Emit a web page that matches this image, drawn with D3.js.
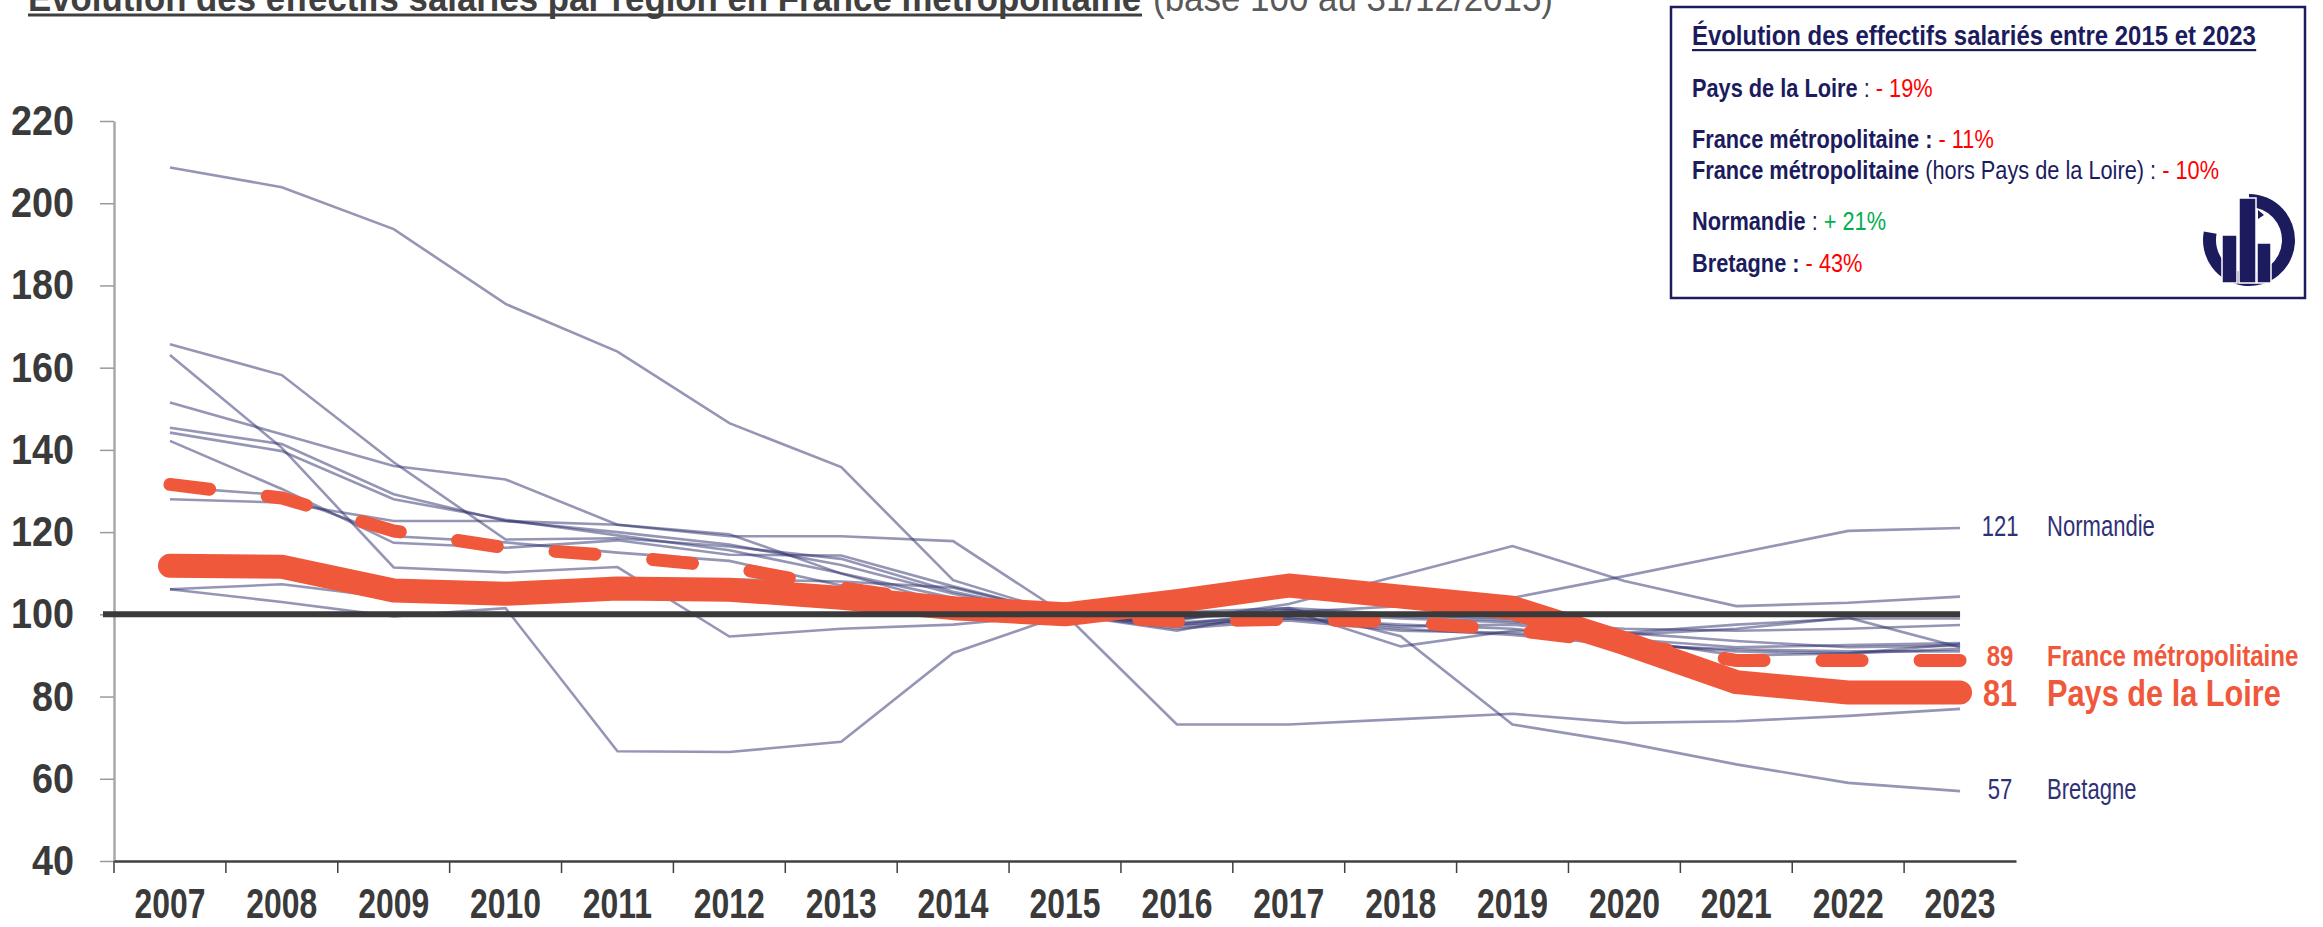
<!DOCTYPE html>
<html><head><meta charset="utf-8">
<script src="https://cdn.jsdelivr.net/npm/d3@7"></script>
<style>body{margin:0;background:#fff;overflow:hidden}</style>
</head><body>
<svg id="c" width="2323" height="927"></svg>
<script>
// ---------- DATA ----------
const years = [2007,2008,2009,2010,2011,2012,2013,2014,2015,2016,2017,2018,2019,2020,2021,2022,2023];
const yTicks = [40,60,80,100,120,140,160,180,200,220];

const paysDeLaLoire = [111.8,111.6,105.8,105.0,106.3,106.0,104.0,101.5,100,103.2,107.0,104.3,101.6,93.0,83.5,81.0,81.0];
const franceMetro   = [131.6,128.3,120.3,116.2,114.2,111.5,106.5,102.5,100,98.3,98.8,98.2,96.2,93.0,88.8,88.8,88.8];

const normandie = [131.0,129.0,119.0,117.5,115.0,113.0,107.0,102.0,100,97.5,100.5,102.0,104.0,109.3,114.8,120.3,121.0];
const bretagne  = [208.7,203.9,193.7,175.5,163.9,146.5,135.8,108.3,100,99.0,101.5,94.7,73.2,68.8,63.5,59.0,57.0];
const regionA = [106.1,103.0,99.5,101.5,66.7,66.5,69.0,90.6,100,73.2,73.2,74.5,75.8,73.6,74.0,75.3,77.0];
const regionB = [165.7,158.2,137.0,118.2,118.5,116.5,113.5,105.5,100,98.5,102.5,109.5,116.6,108.1,102.0,102.8,104.3];
const regionC = [163.1,140.5,111.4,110.2,111.5,94.6,96.5,97.5,100,96.0,101.0,92.2,96.0,95.5,97.5,99.0,99.0];
const regionD = [151.5,143.8,136.1,132.8,121.8,119.0,119.0,117.8,100,99.0,100.5,99.0,98.0,96.5,96.0,96.5,97.4];
const regionE = [145.4,141.4,129.2,122.7,120.0,117.0,112.0,105.0,100,97.0,99.0,97.5,96.5,94.0,92.0,92.5,93.0];
const regionF = [144.2,139.7,128.0,123.0,119.2,115.6,110.0,104.0,100,98.0,99.5,97.0,97.5,95.0,96.5,99.2,92.0];
const regionG = [142.2,130.5,117.4,116.2,118.0,114.5,114.3,106.8,100,96.5,98.5,96.0,95.5,93.0,91.0,90.5,91.6];
const regionH = [128.0,127.2,122.7,122.7,121.8,119.5,109.9,102.5,100,97.5,99.0,96.5,95.0,92.5,91.5,91.0,91.0];
const regionI = [106.1,107.3,104.0,103.0,104.0,107.5,105.0,104.0,100,99.5,101.0,99.5,98.5,94.0,90.0,90.5,92.8];
const regionJ = [112.5,111.0,107.0,106.0,107.5,108.5,108.0,106.5,100,100.5,101.5,100.0,99.0,95.5,93.5,92.0,92.4];
const greyRegions = [normandie,bretagne,regionA,regionB,regionC,regionD,regionE,regionF,regionG,regionH,regionI,regionJ];

const titleMain = "Évolution des effectifs salariés par région en France métropolitaine";
const titleSub  = "(base 100 au 31/12/2015)";
const legendTitle = "Évolution des effectifs salariés entre 2015 et 2023";
const legendLines = [
  [["Pays de la Loire","b","n"],[":","r","n"],["- 19%","r","red"]],
  [["France métropolitaine :","b","n"],["- 11%","r","red"]],
  [["France métropolitaine","b","n"],["(hors Pays de la Loire) :","r","n"],["- 10%","r","red"]],
  [["Normandie","b","n"],[":","r","n"],["+ 21%","r","green"]],
  [["Bretagne :","b","n"],["- 43%","r","red"]]
];
const endLabels = [
  {name:"Normandie", series:normandie, kind:"grey", nudge:0},
  {name:"France métropolitaine", series:franceMetro, kind:"fr", nudge:-3},
  {name:"Pays de la Loire", series:paysDeLaLoire, kind:"pdl", nudge:2.5},
  {name:"Bretagne", series:bretagne, kind:"grey", nudge:0}
];

// ---------- STYLE ----------
const FONT = "'Liberation Sans',Arial,sans-serif";
const ORANGE = "#f0583c";
const NAVY = "#1b1b5e";
const LABELNAVY = "#2e3175";
const COLS = {n:NAVY, red:"#ff0000", green:"#00b050"};

// horizontal condensing (Arial Narrow look) through a scale transform
function condense(sel, f){
  sel.each(function(){
    const el = d3.select(this);
    const x0 = +(el.attr("x") || 0);
    el.attr("x", x0/f).attr("transform", `scale(${f},1)`);
  });
  return sel;
}

const svg = d3.select("#c");
svg.append("rect").attr("width",2323).attr("height",927).attr("fill","#fff");

const x = d3.scaleBand().domain(years).range([114,2016]);
const xc = yr => x(yr) + x.bandwidth()/2;
const y = d3.scaleLinear().domain([40,220]).range([861,121]);
const line = d3.line().x((d,i)=>xc(years[i])).y(d=>y(d));

// title (cut at the top edge, as in the source)
svg.append("text").attr("x",28).attr("y",11)
  .attr("font-family",FONT).attr("font-weight","bold").attr("font-size",36)
  .attr("fill","#404040").attr("textLength",1113).attr("lengthAdjust","spacingAndGlyphs")
  .text(titleMain);
svg.append("rect").attr("x",28).attr("y",13.5).attr("width",1114).attr("height",3).attr("fill","#404040");
svg.append("text").attr("x",1153).attr("y",11)
  .attr("font-family",FONT).attr("font-size",36)
  .attr("fill","#595959").attr("textLength",400).attr("lengthAdjust","spacingAndGlyphs")
  .text(titleSub);

// y axis
const yAx = svg.append("g").attr("transform","translate(114,0)")
  .call(d3.axisLeft(y).tickValues(yTicks).tickSize(14).tickSizeOuter(0).tickPadding(26));
yAx.select(".domain").attr("stroke","#a8a8a8").attr("stroke-width",2.5);
yAx.selectAll(".tick line").attr("stroke","#9a9a9a").attr("stroke-width",1.5);
condense(yAx.selectAll(".tick text").attr("font-family",FONT).attr("font-weight","bold")
  .attr("font-size",42).attr("fill","#3a3a3a"), 0.9);

// x axis
const xAx = svg.append("g").attr("transform","translate(0,861)")
  .call(d3.axisBottom(x).tickSize(0).tickSizeOuter(0).tickPadding(27));
xAx.select(".domain").attr("stroke","#404040").attr("stroke-width",2.5);
condense(xAx.selectAll(".tick text").attr("font-family",FONT).attr("font-weight","bold")
  .attr("font-size",42).attr("fill","#3a3a3a"), 0.76);
svg.append("g").selectAll("line").data(years).join("line")
  .attr("x1",d=>x(d)).attr("x2",d=>x(d)).attr("y1",861).attr("y2",873)
  .attr("stroke","#404040").attr("stroke-width",1.5);

// grey region lines
svg.append("g").selectAll("path").data(greyRegions).join("path")
  .attr("d",line).attr("fill","none").attr("stroke","#2b2e6b")
  .attr("stroke-opacity",0.5).attr("stroke-width",2.6);

// France dashed
svg.append("path").attr("d",line(franceMetro)).attr("fill","none")
  .attr("stroke",ORANGE).attr("stroke-width",13).attr("stroke-linecap","round")
  .attr("stroke-dasharray","40 58");

// Pays de la Loire thick
svg.append("path").attr("d",line(paysDeLaLoire)).attr("fill","none")
  .attr("stroke",ORANGE).attr("stroke-width",24).attr("stroke-linecap","round")
  .attr("stroke-linejoin","round");

// base 100 line
svg.append("line").attr("x1",103).attr("x2",xc(years[years.length-1]))
  .attr("y1",y(100)).attr("y2",y(100)).attr("stroke","#3a3a3a").attr("stroke-width",6);

// end labels
const lastX = xc(years[years.length-1]);
endLabels.forEach(l=>{
  const v = l.series[l.series.length-1];
  const isPdl = l.kind==="pdl", isFr = l.kind==="fr";
  const col = (isPdl||isFr) ? ORANGE : LABELNAVY;
  const fs = isPdl ? 37 : 29;
  const fw = (isPdl||isFr) ? "bold" : "normal";
  const sq = (isPdl||isFr) ? 0.83 : 0.76;
  const yy = y(v) - 2 + l.nudge;
  condense(svg.append("text").attr("x",lastX+40).attr("y",yy).attr("dy","0.35em")
    .attr("text-anchor","middle").attr("font-family",FONT).attr("font-size",fs)
    .attr("font-weight",fw).attr("fill",col).text(d3.format(".0f")(v)), sq);
  condense(svg.append("text").attr("x",lastX+87).attr("y",yy).attr("dy","0.35em")
    .attr("font-family",FONT).attr("font-size",fs)
    .attr("font-weight",fw).attr("fill",col).text(l.name), sq);
});

// legend box
svg.append("rect").attr("x",1671).attr("y",7).attr("width",634).attr("height",291)
  .attr("fill","#fff").attr("stroke",NAVY).attr("stroke-width",2.5);
const lt = svg.append("text").attr("x",1692).attr("y",45)
  .attr("font-family",FONT).attr("font-weight","bold").attr("font-size",28)
  .attr("fill",NAVY).text(legendTitle);
const ltw0 = lt.node().getComputedTextLength();
condense(lt, 0.855);
svg.append("rect").attr("x",1692).attr("y",49).attr("width",ltw0*0.855).attr("height",2.2).attr("fill",NAVY);

const lineYs = [97,148,179,230,272];
const LSQ = 0.87;
const GAP = 25*0.278*LSQ;
legendLines.forEach((segs,i)=>{
  let cx = 1692;
  segs.forEach((s,j)=>{
    if (j>0) cx += GAP;
    const t = svg.append("text").attr("x",cx).attr("y",lineYs[i])
      .attr("font-family",FONT).attr("font-size",25)
      .attr("font-weight",s[1]==="b"?"bold":"normal")
      .attr("fill",COLS[s[2]]).text(s[0]);
    const w = t.node().getComputedTextLength()*LSQ;
    condense(t, LSQ);
    cx += w;
  });
});

// logo
const lg = svg.append("g").attr("transform","translate(2249,240)");
lg.append("path").attr("d",d3.arc().innerRadius(33).outerRadius(46)
  .startAngle(0).endAngle(Math.PI*2*0.78)()).attr("fill",NAVY);
lg.append("rect").attr("x",-27).attr("y",-5).attr("width",15).attr("height",48).attr("fill",NAVY).attr("stroke","#fff").attr("stroke-width",1.5);
lg.append("rect").attr("x",-10).attr("y",-42).attr("width",17).attr("height",85).attr("fill",NAVY).attr("stroke","#fff").attr("stroke-width",1.5);
lg.append("rect").attr("x",8).attr("y",3).attr("width",14).attr("height",40).attr("fill",NAVY).attr("stroke","#fff").attr("stroke-width",1.5);
lg.append("path").attr("d","M9,-30 L15,-25 L9,-21 Z").attr("fill",NAVY);
</script>
</body></html>
